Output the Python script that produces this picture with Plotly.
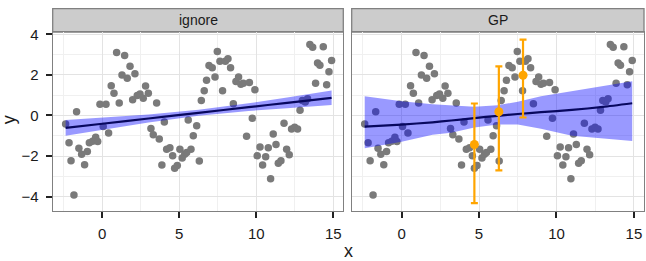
import plotly.graph_objects as go

# ---- data ----
pts_x = [-2.38, -2.16, -1.67, -2.03, -1.84, -1.52, -1.34, -0.97, -1.15, -0.84,
         -0.63, -0.43, -0.30, -0.15, 0.06, 0.24, 0.41, 0.58, 0.76, 0.93,
         1.10, 1.28, 1.45, 1.62, 1.80, 1.97, 2.12, 2.27, 2.45, 2.66,
         2.81, 2.99, 3.16, 3.31, 3.53, 3.70, 3.87, 4.03, 4.18, 4.39,
         4.57, 4.70, 4.87, 5.04, 5.19, 5.35, 5.48, 5.58, 5.76, 5.91,
         6.13, 6.30, 6.43, 6.62, 6.77, 6.93, 7.14, 7.32, 7.47, 7.64,
         7.81, 7.99, 8.16, 8.33, 8.51, 8.68, 8.85, 9.00, 9.16, 9.37,
         9.55, 9.74, 9.91, 10.06, 10.24, 10.41, 10.61, 10.78, 10.93, 11.10,
         11.28, 11.43, 11.60, 11.80, 11.97, 12.14, 12.29, 12.49, 12.68, 12.84,
         12.99, 13.18, 13.33, 13.48, 13.66, 13.85, 13.98, 14.13, 14.35, 14.57,
         14.72, 14.89]
pts_y = [-0.42, -1.35, 0.18, -2.23, -3.92, -1.62, -1.91, -1.78, -2.43, -1.35,
         -1.27, -1.08, -1.29, 0.55, -0.55, 0.55, -0.87, 1.46, 1.09, 3.10,
         0.61, 1.99, 2.96, 1.83, 2.43, 0.77, 2.06, 0.98, 1.06, 0.85,
         1.45, 1.09, -0.64, -0.95, 0.61, -1.16, -2.44, -0.32, -1.67, -1.59,
         -1.99, -2.60, -2.47, -1.67, -2.10, -1.91, -1.83, -0.22, -1.67, -1.00,
         -0.51, -2.25, 0.74, 1.22, 1.73, 2.46, 2.35, 1.90, 3.15, 2.67,
         1.22, 2.67, 2.80, 2.35, 0.58, 1.67, 1.90, 1.54, 1.59, -1.03,
         1.62, -0.14, 1.27, -1.99, -1.56, -2.44, -2.04, -1.59, -3.12, -0.92,
         -1.43, -2.36, -2.23, -0.39, -1.67, -1.94, -0.67, -0.58, -0.67, 0.26,
         0.74, 0.66, 0.82, 3.50, 3.36, 1.59, 2.59, 2.47, 3.39, 1.51,
         2.15, 2.71]

# linear fit (panel "ignore")
lm_x = [-2.38, 0.0, 3.0, 6.25, 9.5, 12.0, 14.89]
lm_y = [-0.61, -0.41, -0.15, 0.13, 0.41, 0.62, 0.87]
lm_lo = [-1.00, -0.71, -0.35, -0.02, 0.22, 0.35, 0.51]
lm_hi = [-0.23, -0.11, 0.05, 0.28, 0.60, 0.89, 1.23]

# GP fit (panel "GP")
gp_x = [-2.38, 0.0, 2.0, 3.2, 4.7, 6.2, 7.5, 9.0, 11.0, 13.0, 14.89]
gp_y = [-0.55, -0.45, -0.34, -0.25, -0.13, -0.02, 0.07, 0.16, 0.27, 0.42, 0.60]
gp_lo = [-1.62, -1.30, -0.95, -0.85, -0.60, -0.45, -0.45, -0.65, -1.00, -1.15, -1.26]
gp_hi = [0.95, 0.70, 0.55, 0.50, 0.43, 0.50, 0.68, 0.95, 1.20, 1.45, 1.68]

# GP predictions with intervals
pred_x = [4.70, 6.28, 7.84]
pred_y = [-1.43, 0.18, 1.98]
pred_lo = [-4.32, -2.71, -0.10]
pred_hi = [0.59, 2.42, 3.74]

panels = ["ignore", "GP"]
x_ticks = [0, 5, 10, 15]
y_ticks = [-4, -2, 0, 2, 4]

W, H = 646, 261
GREY_PT = "#7a7a7a"
BAND = "rgba(0,0,255,0.4)"
LINE = "#08085e"

fig = go.Figure()

def add_panel(xa, ya, fx, fy, flo, fhi):
    fig.add_trace(go.Scatter(x=pts_x, y=pts_y, mode="markers", xaxis=xa, yaxis=ya,
                             marker=dict(size=7.5, color=GREY_PT), showlegend=False,
                             hoverinfo="skip"))
    fig.add_trace(go.Scatter(x=fx, y=flo, mode="lines", xaxis=xa, yaxis=ya,
                             line=dict(width=0, color=BAND), showlegend=False,
                             hoverinfo="skip"))
    fig.add_trace(go.Scatter(x=fx, y=fhi, mode="lines", xaxis=xa, yaxis=ya,
                             fill="tonexty", fillcolor=BAND,
                             line=dict(width=0, color=BAND), showlegend=False,
                             hoverinfo="skip"))
    fig.add_trace(go.Scatter(x=fx, y=fy, mode="lines", xaxis=xa, yaxis=ya,
                             line=dict(width=2.2, color=LINE, shape="spline", smoothing=0.6),
                             showlegend=False, hoverinfo="skip"))

add_panel("x", "y", lm_x, lm_y, lm_lo, lm_hi)
add_panel("x2", "y2", gp_x, gp_y, gp_lo, gp_hi)

fig.add_trace(go.Scatter(
    x=pred_x, y=pred_y, mode="markers", xaxis="x2", yaxis="y2",
    marker=dict(size=9, color="#FFA500"),
    error_y=dict(type="data", symmetric=False,
                 array=[h - v for h, v in zip(pred_hi, pred_y)],
                 arrayminus=[v - l for l, v in zip(pred_lo, pred_y)],
                 color="#FFA500", thickness=2.2, width=3.5),
    showlegend=False, hoverinfo="skip"))

# geometry in pixels
px_l1, px_r1 = 52.7, 343.3
px_l2, px_r2 = 351.7, 644.0
py_top, py_bot = 26.7, 210.0
strip_top = 2.7

xr = [-3.22, 15.65]
yr = [-4.72, 4.11]

def xdom(a, b):
    return [a / W, b / W]

ydom = [(H - py_bot) / H, (H - py_top) / H]

tickfont = dict(family="Liberation Sans, Arial, sans-serif", size=15, color="#1a1a1a")
common_x = dict(range=xr, tickvals=x_ticks, ticks="outside", ticklen=6, tickwidth=1.6,
                tickcolor="#222222", showline=True, linecolor="#808080", linewidth=1.3,
                mirror=True, showgrid=True, gridcolor="#e3e3e3", gridwidth=1,
                zeroline=False, tickfont=tickfont, ticklabelstandoff=3,
                minor=dict(dtick=2.5, tick0=-2.5, showgrid=True, gridcolor="#f0f0f0",
                           gridwidth=1, ticks=""))
common_y = dict(range=yr, tickvals=y_ticks, showline=True, linecolor="#808080",
                linewidth=1.3, mirror=True, showgrid=True, gridcolor="#e3e3e3",
                gridwidth=1, zeroline=False, tickfont=tickfont,
                minor=dict(dtick=2, tick0=-3, showgrid=True, gridcolor="#f0f0f0",
                           gridwidth=1, ticks=""))

fig.update_layout(
    width=W, height=H,
    margin=dict(l=0, r=0, t=0, b=0),
    paper_bgcolor="white", plot_bgcolor="white",
    xaxis=dict(domain=xdom(px_l1, px_r1), anchor="y", **common_x),
    xaxis2=dict(domain=xdom(px_l2, px_r2), anchor="y2", **common_x),
    yaxis=dict(domain=ydom, anchor="x", ticks="outside", ticklen=6, tickwidth=1.6,
               tickcolor="#222222", ticklabelstandoff=4, **common_y),
    yaxis2=dict(domain=ydom, anchor="x2", ticks="", showticklabels=False, **common_y),
    font=dict(family="Liberation Sans, Arial, sans-serif", color="#1a1a1a"),
)

# facet strips
for name, (a, b) in zip(panels, [(px_l1, px_r1), (px_l2, px_r2)]):
    fig.add_shape(type="rect", xref="paper", yref="paper",
                  x0=a / W, x1=b / W, y0=(H - py_top) / H, y1=(H - strip_top) / H,
                  fillcolor="#cccccc", line=dict(color="#808080", width=1.3), layer="below")
    fig.add_annotation(x=(a + b) / 2 / W, y=(H - (py_top + strip_top) / 2) / H,
                       xref="paper", yref="paper", text=name, showarrow=False,
                       font=dict(size=14, color="#1a1a1a"), xanchor="center", yanchor="middle")

# axis titles
fig.add_annotation(x=348 / W, y=(H - 251) / H, xref="paper", yref="paper", text="x",
                   showarrow=False, font=dict(size=18), xanchor="center", yanchor="middle")
fig.add_annotation(x=9 / W, y=(H - 117) / H, xref="paper", yref="paper", text="y",
                   showarrow=False, font=dict(size=18), textangle=-90,
                   xanchor="center", yanchor="middle")

fig.write_html("out.html")
